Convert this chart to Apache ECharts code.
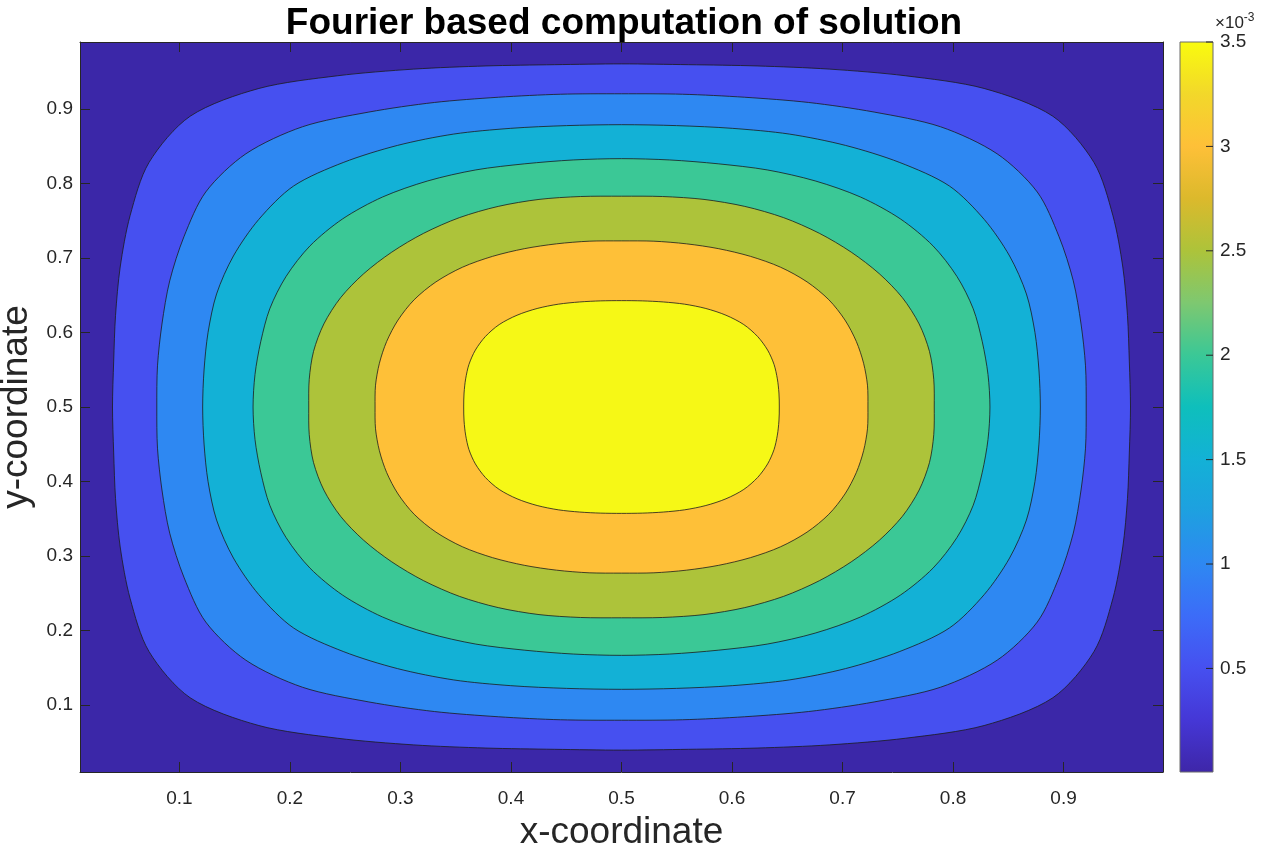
<!DOCTYPE html>
<html lang="en">
<head>
<meta charset="utf-8">
<title>Fourier based computation of solution</title>
<script src="https://cdn.jsdelivr.net/npm/echarts@6/dist/echarts.min.js"></script>
<style>
html, body { margin: 0; padding: 0; background: #fff; }
#chart { width: 1261px; height: 846px; }
</style>
</head>
<body>
<div id="chart"></div>
<script type="text/javascript">
// tick labels
var xTicks = [0.1, 0.2, 0.3, 0.4, 0.5, 0.6, 0.7, 0.8, 0.9];
var yTicks = [0.1, 0.2, 0.3, 0.4, 0.5, 0.6, 0.7, 0.8, 0.9];
var cbTicks = [0.5, 1, 1.5, 2, 2.5, 3, 3.5];   // x 10^-3
var cbMin = 0.004, cbMax = 3.5;
var axisMin = 0.01, axisMax = 0.99;

// fill colour of each band, outermost first
var outerColor = '#3b27a8';
var bandColors = ['#4650f0', '#2e88f2', '#13b1d6', '#3bc896', '#adc33a', '#fec038', '#f6f816'];

// contour lines, as distance from the centre (0.5, 0.5)
// at these angles (degrees) in the first quarter
var angles = [0, 7.5, 15, 22.5, 30, 37.5, 45, 52.5, 60, 67.5, 75, 82.5, 90];
var r1 = [0.4606, 0.4635, 0.474, 0.491, 0.5135, 0.539, 0.552, 0.539, 0.5135, 0.491, 0.474, 0.4635, 0.4606];
var r2 = [0.4205, 0.4235, 0.4305, 0.4425, 0.4572, 0.4742, 0.4807, 0.4742, 0.4572, 0.4425, 0.4305, 0.4235, 0.4205];
var r3 = [0.379, 0.381, 0.3873, 0.3966, 0.4055, 0.4137, 0.4196, 0.4137, 0.4055, 0.3966, 0.3873, 0.381, 0.379];
var r4 = [0.3334, 0.3345, 0.338, 0.3445, 0.3505, 0.3553, 0.357, 0.3553, 0.3505, 0.3445, 0.338, 0.3345, 0.3334];
var r5 = [0.283, 0.285, 0.2885, 0.2915, 0.2935, 0.294, 0.294, 0.294, 0.2935, 0.2915, 0.2885, 0.285, 0.283];
var r6 = [0.223, 0.2245, 0.2268, 0.23, 0.2335, 0.2365, 0.2375, 0.2365, 0.2335, 0.23, 0.2268, 0.2245, 0.223];
var r7 = [0.1428, 0.1437, 0.146, 0.1494, 0.1527, 0.1553, 0.1565, 0.1553, 0.1527, 0.1494, 0.146, 0.1437, 0.1428];
var contours = [r1, r2, r3, r4, r5, r6, r7];

// colormap of the colorbar (bottom -> top)
var parula = ['#3e26a8','#4537d6','#4650f0','#3c6cf8','#2e88f2','#1ea0e0','#13b1d6','#0ebfbc','#3bc896','#7ec870','#adc33a','#dcb92c','#fec038','#f2d82a','#f9fb0e'];

// the field is symmetric about x = 0.5 and y = 0.5, so mirror the quarter into a closed ring
function ring(r) {
	var pts = [];
	var signs = [[1, 1], [-1, 1], [-1, -1], [1, -1]];
	for (var q = 0; q < 4; q++) {
		for (var k = 0; k < angles.length - 1; k++) {
			// walk each quarter in the right direction
			var i = (q % 2 === 0) ? k : angles.length - 1 - k;
			var a = angles[i] * Math.PI / 180;
			pts.push([0.5 + signs[q][0] * r[i] * Math.cos(a), 0.5 + signs[q][1] * r[i] * Math.sin(a)]);
		}
	}
	return pts;
}

var font = '"Liberation Sans", Arial, Helvetica, sans-serif';
var ink = '#262626';

var myChart = echarts.init(document.getElementById('chart'));

var stops = parula.map(function (c, i) {
	return { offset: i / (parula.length - 1), color: c };
});

var option = {
	animation: false,
	backgroundColor: '#fff',
	title: {
		text: 'Fourier based computation of solution',
		left: 619,
		textAlign: 'center',
		top: 0,
		textStyle: { fontFamily: font, fontSize: 37, fontWeight: 'bold', color: '#000' }
	},
	grid: [
		{ left: 80, top: 42, width: 1083, height: 730, outerBoundsMode: 'none', show: true, backgroundColor: outerColor, borderWidth: 0 },
		{ left: 1180, top: 42, width: 33, height: 730, outerBoundsMode: 'none' }
	],
	xAxis: [
		{
			gridIndex: 0, type: 'value', min: axisMin, max: axisMax, position: 'bottom', z: 10,
			name: 'x-coordinate', nameLocation: 'middle', nameGap: 42,
			nameTextStyle: { fontFamily: font, fontSize: 37, color: ink },
			axisLine: { show: true, onZero: false, lineStyle: { color: ink, width: 1 } },
			axisTick: { show: true, inside: true, length: 10, customValues: xTicks, lineStyle: { color: ink } },
			axisLabel: { customValues: xTicks, margin: 17, fontFamily: font, fontSize: 19, color: ink },
			splitLine: { show: false }
		},
		{
			gridIndex: 0, type: 'value', min: axisMin, max: axisMax, position: 'top', z: 10,
			axisLine: { show: true, onZero: false, lineStyle: { color: ink, width: 1 } },
			axisTick: { show: true, inside: true, length: 10, customValues: xTicks, lineStyle: { color: ink } },
			axisLabel: { show: false },
			splitLine: { show: false }
		},
		{
			gridIndex: 1, type: 'value', min: 0, max: 1, show: false
		}
	],
	yAxis: [
		{
			gridIndex: 0, type: 'value', min: axisMin, max: axisMax, position: 'left', z: 10,
			name: 'y-coordinate', nameLocation: 'middle', nameGap: 36,
			nameTextStyle: { fontFamily: font, fontSize: 37, color: ink },
			axisLine: { show: true, onZero: false, lineStyle: { color: ink, width: 1 } },
			axisTick: { show: true, inside: true, length: 10, customValues: yTicks, lineStyle: { color: ink } },
			axisLabel: { customValues: yTicks, margin: 7, fontFamily: font, fontSize: 19, color: ink },
			splitLine: { show: false }
		},
		{
			gridIndex: 0, type: 'value', min: axisMin, max: axisMax, position: 'right', z: 10,
			axisLine: { show: true, onZero: false, lineStyle: { color: ink, width: 1 } },
			axisTick: { show: true, inside: true, length: 10, customValues: yTicks, lineStyle: { color: ink } },
			axisLabel: { show: false },
			splitLine: { show: false }
		},
		{
			gridIndex: 1, type: 'value', min: cbMin, max: cbMax, position: 'right', z: 10,
			name: '{a|×10}{b|-3}', nameLocation: 'end', nameGap: 8,
			nameTextStyle: {
				align: 'left', verticalAlign: 'bottom', padding: [0, 0, 0, 2],
				rich: {
					a: { fontFamily: font, fontSize: 17, color: ink },
					b: { fontFamily: font, fontSize: 12, color: ink, verticalAlign: 'top', padding: [0, 0, 10, 0] }
				}
			},
			axisLine: { show: false, onZero: false },
			axisTick: { show: false },
			axisLabel: { customValues: cbTicks, margin: 7, fontFamily: font, fontSize: 19, color: ink },
			splitLine: { show: false }
		}
	],
	series: [
		{
			// filled contour bands, outermost first
			type: 'custom',
			xAxisIndex: 0,
			yAxisIndex: 0,
			clip: true,
			z: 2,
			data: contours.map(function (r) { return [0.5, 0.5 + r[0]]; }),
			renderItem: function (params, api) {
				var pts = ring(contours[params.dataIndex]).map(function (p) {
					return api.coord(p);
				});
				return {
					type: 'polygon',
					shape: { points: pts, smooth: 0.3 },
					style: { fill: bandColors[params.dataIndex], stroke: '#1c1c1c', lineWidth: 0.8 }
				};
			}
		},
		{
			// colorbar with its ticks on the right edge
			type: 'custom',
			xAxisIndex: 2,
			yAxisIndex: 2,
			z: 2,
			data: [[0, cbMin, 1, cbMax]],
			renderItem: function (params, api) {
				var p0 = api.coord([api.value(0), api.value(3)]);
				var p1 = api.coord([api.value(2), api.value(1)]);
				var children = [{
					type: 'rect',
					shape: { x: p0[0], y: p0[1], width: p1[0] - p0[0], height: p1[1] - p0[1] },
					style: {
						fill: new echarts.graphic.LinearGradient(0, 1, 0, 0, stops),
						stroke: '#6b6b6b',
						lineWidth: 1
					}
				}];
				cbTicks.forEach(function (v) {
					var p = api.coord([1, v]);
					children.push({
						type: 'line',
						shape: { x1: p[0], y1: p[1], x2: p[0] - 7, y2: p[1] },
						style: { stroke: ink, lineWidth: 1 }
					});
				});
				return { type: 'group', children: children };
			}
		}
	]
};

if (option && typeof option === 'object') {
	myChart.setOption(option);
}
</script>
</body>
</html>
